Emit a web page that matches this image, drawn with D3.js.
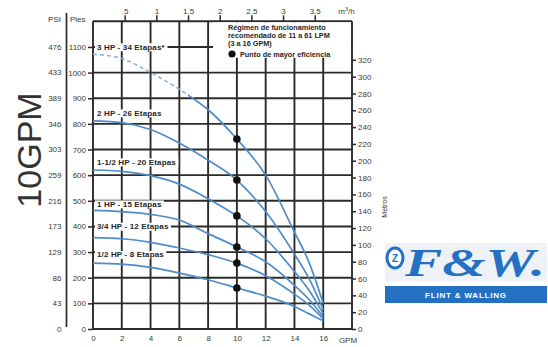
<!DOCTYPE html>
<html>
<head>
<meta charset="utf-8">
<script src="https://cdn.jsdelivr.net/npm/d3@7"></script>
<style>
html,body{margin:0;padding:0;background:#fff;}
svg{display:block;font-family:"Liberation Sans",Arial,sans-serif;}
</style>
</head>
<body>
<svg id="chart" width="548" height="347"></svg>
<script>
// ---------- data ----------
const gpm = [0, 2, 4, 6, 8, 10, 12, 14, 15, 16];
const head3hp  = [1072, 1055, 1000, 935, 855, 741, 600, 378, 262, 100];
const head2hp  = [812, 805, 778, 725, 658, 581, 458, 292, 198, 76];
const head15hp = [620, 615, 598, 565, 508, 441, 352, 224, 152, 60];
const head1hp  = [463, 458, 447, 425, 372, 320, 262, 170, 116, 48];
const head34hp = [356, 352, 338, 316, 290, 257, 208, 136, 94, 40];
const head12hp = [257, 253, 240, 218, 192, 160, 128, 88, 60, 32];
const pumpNames = ["3 HP - 34 Etapas*", "2 HP - 26 Etapas", "1-1/2 HP - 20 Etapas",
                   "1 HP - 15 Etapas", "3/4 HP - 12 Etapas", "1/2 HP - 8 Etapas"];
const bestEfficiencyGpm = 10;
const gpmTicks = [0, 2, 4, 6, 8, 10, 12, 14, 16];
const piesTicks = [0, 100, 200, 300, 400, 500, 600, 700, 800, 900, 1000, 1100];
const psiLabels = ["0", "43", "86", "129", "173", "216", "259", "303", "346", "389", "433", "476"];
const m3hTicks = [0.5, 1, 1.5, 2, 2.5, 3, 3.5];
const m3hLabels = [".5", "1", "1.5", "2", "2.5", "3", "3.5"];
const metrosTicks = [0, 20, 40, 60, 80, 100, 120, 140, 160, 180, 200, 220, 240, 260, 280, 300, 320];
const legendLines = ["Régimen de funcionamiento", "recomendado de 11 a 61 LPM", "(3 a 16 GPM)"];
const legendDotText = "Punto de mayor eficiencia";

const heads = [head3hp, head2hp, head15hp, head1hp, head34hp, head12hp];

// ---------- layout ----------
const svg = d3.select("#chart");
const L = 93, R = 352, T = 21.3, B = 329;
const x = d3.scaleLinear().domain([0, 18]).range([L, R]);
const y = d3.scaleLinear().domain([0, 1200]).range([B, T]);
const yM = d3.scaleLinear().domain([0, 1200 * 0.3048]).range([B, T]);
const xM = d3.scaleLinear().domain([0, 18 * 0.22712]).range([L, R]);

const gridColor = "#2b2b2b";
const textColor = "#3a3a3a";
const curveColor = "#4f8cc8";

// gridlines
const grid = svg.append("g").attr("stroke", gridColor).attr("stroke-width", 1.9);
grid.selectAll("line.v").data(gpmTicks.filter(d => d > 0)).join("line")
  .attr("x1", d => x(d)).attr("x2", d => x(d)).attr("y1", T).attr("y2", B);
grid.selectAll("line.h").data(piesTicks.filter(d => d > 0)).join("line")
  .attr("x1", L).attr("x2", R).attr("y1", d => y(d)).attr("y2", d => y(d));
// frame
grid.append("line").attr("x1", L).attr("x2", L).attr("y1", T).attr("y2", B);
grid.append("line").attr("x1", R).attr("x2", R).attr("y1", T).attr("y2", B);
grid.append("line").attr("x1", L).attr("x2", R).attr("y1", T).attr("y2", T);
grid.append("line").attr("x1", L).attr("x2", R).attr("y1", B).attr("y2", B);

// curves
const line = d3.line().x((d, i) => x(gpm[i])).y(d => y(d)).curve(d3.curveMonotoneX);
const defs = svg.append("defs");
const dashLimit = 6.6;
defs.append("clipPath").attr("id", "clipDash").append("rect")
  .attr("x", L).attr("y", 0).attr("width", x(dashLimit) - L).attr("height", 347);
defs.append("clipPath").attr("id", "clipSolid").append("rect")
  .attr("x", x(dashLimit)).attr("y", 0).attr("width", R - x(dashLimit)).attr("height", 347);

const curves = svg.append("g").attr("fill", "none");
heads.forEach((h, k) => {
  if (k === 0) {
    curves.append("path").attr("d", line(h)).attr("stroke", "#86b4df")
      .attr("stroke-width", 1.6).attr("stroke-dasharray", "4,3").attr("clip-path", "url(#clipDash)");
    curves.append("path").attr("d", line(h)).attr("stroke", curveColor)
      .attr("stroke-width", 1.7).attr("clip-path", "url(#clipSolid)");
  } else {
    curves.append("path").attr("d", line(h)).attr("stroke", curveColor).attr("stroke-width", 1.7);
  }
});

// curve labels
const labelFeet = [1100, 842, 651, 487, 400, 290];
const labG = svg.append("g").attr("font-size", 8).attr("font-weight", "bold").attr("fill", "#262626");
pumpNames.forEach((name, k) => {
  const t = labG.append("text").attr("x", 97).attr("y", y(labelFeet[k])).attr("dy", "0.35em")
    .attr("letter-spacing", 0.15).text(name);
  const bb = t.node().getBBox();
  labG.insert("rect", "text").attr("x", bb.x - 2).attr("y", bb.y + 0.5)
    .attr("width", bb.width + 4).attr("height", bb.height - 1).attr("fill", "#fff");
});

// legend
const lg = svg.append("g");
lg.append("rect").attr("x", x(8) + 5).attr("y", T + 1).attr("width", R - x(8) - 6)
  .attr("height", yM(320) - T - 3).attr("fill", "#fff");
lg.selectAll("text.l").data(legendLines).join("text")
  .attr("x", 228).attr("y", (d, i) => 30 + i * 8.2)
  .attr("font-size", 7.3).attr("font-weight", "bold").attr("fill", "#262626").text(d => d);
lg.append("circle").attr("cx", 232).attr("cy", 54).attr("r", 3.6).attr("fill", "#111");
lg.append("text").attr("x", 240).attr("y", 56.8).attr("font-size", 7.3)
  .attr("font-weight", "bold").attr("fill", "#262626").text(legendDotText);

// best-efficiency dots
const idx = gpm.indexOf(bestEfficiencyGpm);
svg.append("g").selectAll("circle").data(heads).join("circle")
  .attr("cx", x(bestEfficiencyGpm)).attr("cy", h => y(h[idx])).attr("r", 3.8).attr("fill", "#111");

// bottom axis (GPM)
const xAxis = d3.axisBottom(x).tickValues(gpmTicks).tickSize(0).tickPadding(6).tickFormat(d3.format("d"));
const gx = svg.append("g").attr("transform", `translate(0,${B})`).call(xAxis);
gx.select(".domain").remove();
gx.selectAll("text").attr("font-size", 8).attr("fill", textColor).attr("font-family", "Liberation Sans, Arial, sans-serif");
svg.append("text").attr("x", 348).attr("y", 342.5).attr("text-anchor", "middle")
  .attr("font-size", 8).attr("fill", textColor).text("GPM");

// left axis (Pies)
const yAxis = d3.axisLeft(y).tickValues(piesTicks).tickSize(5).tickPadding(2).tickFormat(d3.format("d"));
const gy = svg.append("g").attr("transform", `translate(${L},0)`).call(yAxis);
gy.select(".domain").remove();
gy.selectAll("line").attr("stroke", gridColor).attr("stroke-width", 1.5);
gy.selectAll("text").attr("font-size", 8).attr("fill", textColor).attr("font-family", "Liberation Sans, Arial, sans-serif");

// PSI column
svg.append("g").selectAll("text").data(piesTicks).join("text")
  .attr("x", 61.5).attr("y", d => y(d)).attr("dy", "0.35em").attr("text-anchor", "end")
  .attr("font-size", 8).attr("fill", textColor).text((d, i) => psiLabels[i]);
svg.append("line").attr("x1", 66.5).attr("x2", 66.5).attr("y1", 13).attr("y2", 327)
  .attr("stroke", gridColor).attr("stroke-width", 1.7);
svg.append("text").attr("x", 61).attr("y", 22).attr("text-anchor", "end")
  .attr("font-size", 8).attr("fill", textColor).text("PSI");
svg.append("text").attr("x", 70).attr("y", 22)
  .attr("font-size", 8).attr("fill", textColor).text("Pies");

// top axis (m3/h)
const topAxis = d3.axisTop(xM).tickValues(m3hTicks).tickSize(6).tickPadding(1)
  .tickFormat((d, i) => m3hLabels[i]);
const gt = svg.append("g").attr("transform", `translate(0,${T})`).call(topAxis);
gt.select(".domain").remove();
gt.selectAll("line").attr("stroke", gridColor).attr("stroke-width", 1.5);
gt.selectAll("text").attr("font-size", 8).attr("fill", textColor).attr("font-family", "Liberation Sans, Arial, sans-serif");
const unit = svg.append("text").attr("x", xM(4)).attr("y", 14).attr("text-anchor", "middle")
  .attr("font-size", 8).attr("fill", textColor);
unit.append("tspan").text("m");
unit.append("tspan").attr("font-size", 5.5).attr("dy", -3).text("3");
unit.append("tspan").attr("dy", 3).text("/h");

// right axis (Metros)
const rAxis = d3.axisRight(yM).tickValues(metrosTicks).tickSize(4).tickPadding(2).tickFormat(d3.format("d"));
const gr = svg.append("g").attr("transform", `translate(${R},0)`).call(rAxis);
gr.select(".domain").remove();
gr.selectAll("line").attr("stroke", gridColor).attr("stroke-width", 1.5);
gr.selectAll("text").attr("font-size", 8).attr("fill", textColor).attr("font-family", "Liberation Sans, Arial, sans-serif");
svg.append("text").attr("transform", "translate(387,207) rotate(-90)").attr("text-anchor", "middle")
  .attr("font-size", 7).attr("fill", textColor).text("Metros");

// big rotated label
svg.append("text").attr("transform", "translate(41,150) rotate(-90)").attr("text-anchor", "middle")
  .attr("font-size", 34).attr("fill", "#333").text("10GPM");

// logo
const logo = svg.append("g");
const blue = "#2471c4";
logo.append("rect").attr("x", 385).attr("y", 243).attr("width", 162).attr("height", 38).attr("fill", "#eef2f7");
logo.append("ellipse").attr("cx", 395).attr("cy", 258).attr("rx", 8).attr("ry", 10)
  .attr("fill", "#fff").attr("stroke", blue).attr("stroke-width", 3);
logo.append("text").attr("x", 395).attr("y", 262).attr("text-anchor", "middle")
  .attr("font-size", 10).attr("font-weight", "bold").attr("fill", blue).text("Z");
logo.append("text").attr("x", 405).attr("y", 276).attr("font-size", 40)
  .attr("font-family", "Liberation Serif, serif").attr("font-weight", "bold").attr("font-style", "italic")
  .attr("fill", blue).attr("textLength", 140).attr("lengthAdjust", "spacingAndGlyphs").text("F&W.");
logo.append("rect").attr("x", 385).attr("y", 286).attr("width", 162).attr("height", 17).attr("fill", blue);
logo.append("text").attr("x", 466).attr("y", 298).attr("text-anchor", "middle")
  .attr("font-size", 8).attr("font-weight", "bold").attr("fill", "#fff").attr("letter-spacing", 0.8)
  .text("FLINT & WALLING");
</script>
</body>
</html>
